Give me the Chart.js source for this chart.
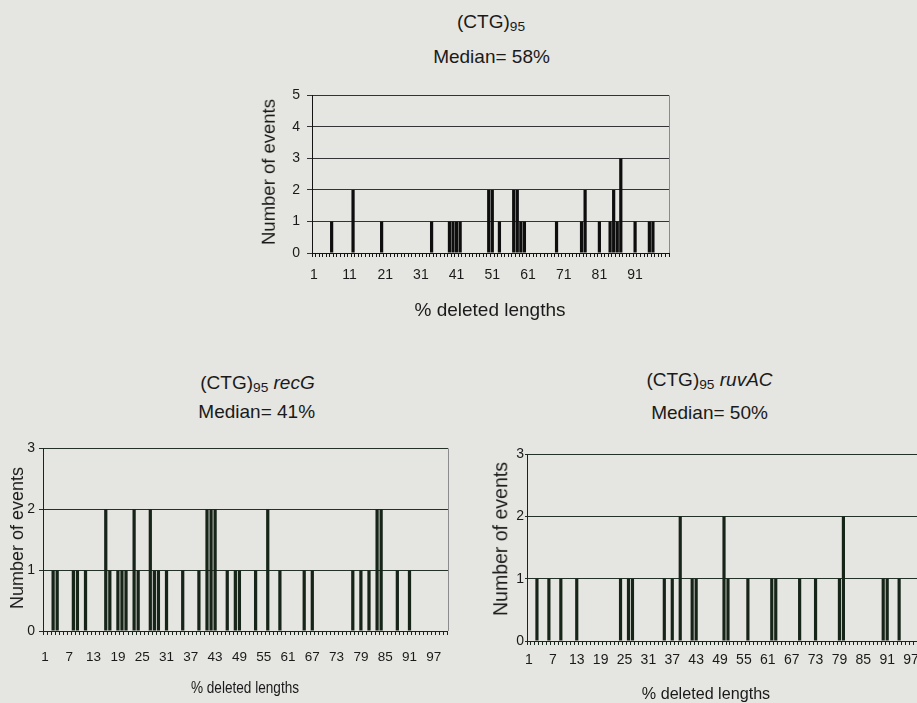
<!DOCTYPE html>
<html>
<head>
<meta charset="utf-8">
<script src="https://cdn.jsdelivr.net/npm/chart.js@4.4.0/dist/chart.umd.min.js"></script>
<style>
  html, body { margin: 0; padding: 0; }
  body {
    width: 917px; height: 703px; overflow: hidden; position: relative;
    background: #e5e5e1; color: #1a1a1a;
    font-family: 'Liberation Sans', Arial, sans-serif;
  }
  canvas { position: absolute; }
  .t { position: absolute; white-space: nowrap; line-height: 1; transform: translate(-50%, -50%); }
  .t sub { font-size: 0.72em; vertical-align: -0.28em; line-height: 0; }
  .v { transform: translate(-50%, -50%) rotate(-90deg); }
</style>
</head>
<body>

<!-- (CTG)95 wild type -->
<canvas id="chartCtg" width="440" height="250" style="left:240px;top:80px;width:440px;height:250px"></canvas>
<div class="t" style="left:491px;top:21px;font-size:19px">(CTG)<sub>95</sub></div>
<div class="t" style="left:491.5px;top:56px;font-size:19px">Median= 58%</div>
<div class="t" style="left:490px;top:309px;font-size:19px">% deleted lengths</div>
<div class="t v" style="left:269px;top:172px;font-size:18.5px">Number of events</div>

<!-- (CTG)95 recG -->
<canvas id="chartRecG" width="460" height="267" style="left:0px;top:436px;width:460px;height:267px"></canvas>
<div class="t" style="left:257.5px;top:382px;font-size:19px">(CTG)<sub>95</sub> <i>recG</i></div>
<div class="t" style="left:256.7px;top:411px;font-size:19px">Median= 41%</div>
<div class="t" style="left:245px;top:687px;font-size:17px;transform:translate(-50%,-50%) scaleX(0.8)">% deleted lengths</div>
<div class="t v" style="left:16.5px;top:538px;font-size:18px">Number of events</div>

<!-- (CTG)95 ruvAC -->
<canvas id="chartRuvAC" width="445" height="259" style="left:490px;top:444px;width:445px;height:259px"></canvas>
<div class="t" style="left:709.5px;top:379px;font-size:19px">(CTG)<sub>95</sub> <i>ruvAC</i></div>
<div class="t" style="left:709.5px;top:412px;font-size:19px">Median= 50%</div>
<div class="t" style="left:705.5px;top:693px;font-size:17px;transform:translate(-50%,-50%) scaleX(0.95)">% deleted lengths</div>
<div class="t v" style="left:500.5px;top:538.5px;font-size:19.5px">Number of events</div>

<script>
// Percentage of the repeat deleted, one category per percent
const percentCategories = Array.from({ length: 100 }, (_, i) => i + 1);

// Labelled categories on each x axis
const ctgTickLabels = [1, 11, 21, 31, 41, 51, 61, 71, 81, 91];
const mutantTickLabels = [1, 7, 13, 19, 25, 31, 37, 43, 49, 55, 61, 67, 73, 79, 85, 91, 97];

// (CTG)95: deleted length (%) and number of events
const ctgBins   = [6, 12, 20, 34, 39, 40, 41, 42, 50, 51, 53, 57, 58, 59, 60, 69, 76, 77, 81, 84, 85, 86, 87, 91, 95, 96];
const ctgCounts = [1, 2,  1,  1,  1,  1,  1,  1,  2,  2,  1,  2,  2,  1,  1,  1,  1,  2,  1,  1,  2,  1,  3,  1,  1,  1];

// (CTG)95 recG
const recGBins   = [3, 4, 8, 9, 11, 16, 17, 19, 20, 21, 23, 24, 27, 28, 29, 31, 35, 39, 41, 42, 43, 46, 48, 49, 53, 56, 59, 65, 67, 77, 79, 81, 83, 84, 88, 91];
const recGCounts = [1, 1, 1, 1, 1,  2,  1,  1,  1,  1,  2,  1,  2,  1,  1,  1,  1,  1,  2,  2,  2,  1,  1,  1,  1,  2,  1,  1,  1,  1,  1,  1,  2,  2,  1,  1];

// (CTG)95 ruvAC
const ruvACBins   = [3, 6, 9, 13, 24, 26, 27, 35, 37, 39, 42, 43, 50, 51, 56, 62, 63, 69, 73, 79, 80, 90, 91, 94];
const ruvACCounts = [1, 1, 1, 1,  1,  1,  1,  1,  1,  2,  1,  1,  2,  1,  1,  1,  1,  1,  1,  1,  2,  1,  1,  1];

// Spread the recorded bins over every category (empty bins are 0)
function toSeries(bins, counts) {
  const series = percentCategories.map(() => 0);
  bins.forEach((b, i) => { series[percentCategories.indexOf(b)] = counts[i]; });
  return series;
}

// Light frame on the right-hand side of the plot area
const plotFrame = {
  id: 'plotFrame',
  beforeDatasetsDraw(chart, args, opts) {
    const { ctx, chartArea: a } = chart;
    ctx.save();
    ctx.strokeStyle = opts.color || '#8a8a8a';
    ctx.lineWidth = 1;
    ctx.beginPath();
    ctx.moveTo(Math.round(a.right) + 0.5, a.top);
    ctx.lineTo(Math.round(a.right) + 0.5, a.bottom);
    ctx.stroke();
    ctx.restore();
  }
};

function histogram(id, series, s) {
  const tickFont = (f) => ({ family: f.family, size: f.size });
  return new Chart(document.getElementById(id), {
    type: 'bar',
    data: {
      labels: percentCategories,
      datasets: [{
        data: series,
        backgroundColor: s.barColor,
        borderWidth: 0,
        barPercentage: s.barPct,
        categoryPercentage: 1
      }]
    },
    options: {
      responsive: false,
      animation: false,
      events: [],
      layout: { padding: { top: 10, right: s.padRight, left: 0, bottom: 0 } },
      plugins: { legend: { display: false }, tooltip: { enabled: false }, plotFrame: { color: s.frameColor } },
      scales: {
        x: {
          type: 'category',
          offset: true,
          grid: { display: true, drawOnChartArea: false, offset: true, tickLength: 4, color: s.axisColor, lineWidth: 1 },
          border: { display: true, color: s.axisColor, width: 1 },
          ticks: {
            autoSkip: false, maxRotation: 0, minRotation: 0,
            padding: s.xTickPad, color: '#1a1a1a', font: tickFont(s.xFont),
            callback: function (value) {
              const c = this.getLabelForValue(value);
              return s.shownTicks.includes(c) ? String(c) : '';
            }
          },
          afterFit(scale) { scale.height = s.xHeight; }
        },
        y: {
          min: 0, max: s.yMax,
          ticks: { stepSize: 1, padding: s.yTickPad, color: '#1a1a1a', font: tickFont(s.yFont) },
          grid: { color: s.gridColor, lineWidth: 1, tickLength: s.yTickLen, drawTicks: true },
          border: { display: true, color: s.axisColor, width: 1 },
          afterFit(scale) { scale.width = s.yWidth; }
        }
      }
    },
    plugins: [plotFrame]
  });
}

const sans = "'Liberation Sans', Arial, sans-serif";

histogram('chartCtg', toSeries(ctgBins, ctgCounts), {
  barColor: '#0e0e0e', gridColor: '#333333', axisColor: '#141414', frameColor: '#8a8a8a',
  barPct: 0.9, padRight: 11, yMax: 5, shownTicks: ctgTickLabels,
  xFont: { family: sans, size: 14 }, yFont: { family: sans, size: 14 },
  xTickPad: 10, yTickPad: 7, yTickLen: 5, xHeight: 77, yWidth: 72
});

histogram('chartRecG', toSeries(recGBins, recGCounts), {
  barColor: '#172519', gridColor: '#243126', axisColor: '#1a261c', frameColor: '#8c8c8c',
  barPct: 0.8, padRight: 12, yMax: 3, shownTicks: mutantTickLabels,
  xFont: { family: sans, size: 13.5 }, yFont: { family: sans, size: 14 },
  xTickPad: 14, yTickPad: 4, yTickLen: 4, xHeight: 72, yWidth: 43
});

histogram('chartRuvAC', toSeries(ruvACBins, ruvACCounts), {
  barColor: '#172519', gridColor: '#243126', axisColor: '#1a261c', frameColor: '#8c8c8c',
  barPct: 0.8, padRight: 10, yMax: 3, shownTicks: mutantTickLabels,
  xFont: { family: sans, size: 14 }, yFont: { family: sans, size: 14 },
  xTickPad: 7, yTickPad: 1, yTickLen: 2, xHeight: 62, yWidth: 37
});
</script>
</body>
</html>
